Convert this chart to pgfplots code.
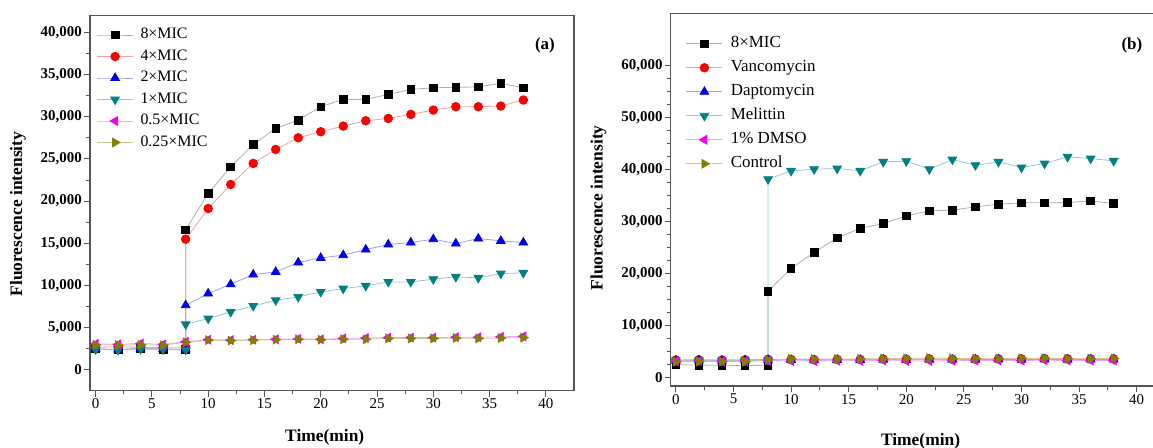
\documentclass[border=0pt]{standalone}
\usepackage{fontspec}
\setmainfont{Liberation Serif}
\usepackage{pgfplots}
\pgfplotsset{compat=1.18}

\definecolor{axgray}{RGB}{85,85,85}
\definecolor{mBlack}{RGB}{0,0,0}
\definecolor{lBlack}{RGB}{175,175,175}
\definecolor{mRed}{RGB}{250,0,0}
\definecolor{lRed}{RGB}{240,160,160}
\definecolor{mBlue}{RGB}{0,0,230}
\definecolor{lBlue}{RGB}{160,160,235}
\definecolor{mTeal}{RGB}{0,128,128}
\definecolor{lTeal}{RGB}{150,200,200}
\definecolor{mMag}{RGB}{240,0,240}
\definecolor{lMag}{RGB}{240,160,240}
\definecolor{mOlive}{RGB}{128,128,0}
\definecolor{lOlive}{RGB}{200,200,150}

\pgfplotsset{
  myaxis/.style={
    scale only axis, anchor=south west,
    xmin=-0.5, xmax=42.5,
    xtick={0,5,...,40}, minor x tick num=1,
    tick pos=left, tick align=outside,
    major tick length=6bp, minor tick length=3.5bp,
    axis line style={draw=axgray, line width=1.2bp},
    every tick/.style={draw=axgray, line width=1bp},
    scaled y ticks=false,
    /pgf/number format/assume math mode=true,
    /pgf/number format/fixed,
    /pgf/number format/precision=0,
    /pgf/number format/1000 sep={,},
    yticklabel style={font=\fontsize{15}{15}\selectfont\bfseries, inner sep=2bp},
    xticklabel style={font=\fontsize{15}{15}\selectfont, inner sep=2bp},
    label style={font=\fontsize{17.5}{17.5}\selectfont\bfseries},
    xlabel={Time(min)}, ylabel={Fluorescence intensity},
    legend cell align=left,
    legend image code/.code={
      \draw[mark repeat=2,mark phase=2,##1] plot coordinates {(0bp,0bp) (18bp,0bp) (36bp,0bp)};
    },
    every axis plot/.append style={line width=0.8bp},
  },
  sBlack/.style={color=lBlack, mark=square*, mark size=3.8bp, mark options={fill=mBlack, draw=mBlack}},
  sRed/.style={color=lRed, mark=*, mark size=4.3bp, mark options={fill=mRed, draw=mRed}},
  sBlue/.style={color=lBlue, mark=triangle*, mark size=5bp, mark options={fill=mBlue, draw=mBlue}},
  sTeal/.style={color=lTeal, mark=triangle*, mark size=5bp, mark options={fill=mTeal, draw=mTeal, rotate=180}},
  sMag/.style={color=lMag, mark=triangle*, mark size=5bp, mark options={fill=mMag, draw=mMag, rotate=90}},
  sOlive/.style={color=lOlive, mark=triangle*, mark size=5bp, mark options={fill=mOlive, draw=mOlive, rotate=-90}},
}

\begin{document}
\begin{tikzpicture}
% ---------------- panel (a)
\begin{axis}[myaxis,
  at={(90bp,57.3bp)}, width=484bp, height=375bp,
  ymin=-2500, ymax=42000,
  ytick={0,5000,...,40000}, minor y tick num=1,
  xlabel style={at={(axis description cs:0.485,-0.123)}, anchor=center},
  ylabel style={at={(axis description cs:-0.149,0.471)}, anchor=center, rotate=0},
  legend style={draw=none, fill=none, at={(axis description cs:0,1)}, anchor=north west,
    xshift=6.7bp, yshift=-12.3bp, inner sep=0pt, outer sep=0pt, row sep=7.5bp, column sep=7bp,
    nodes={inner sep=0pt, text height=11bp, text depth=3bp, font=\fontsize{16}{16}\selectfont}},
]
\addplot[sBlack] coordinates {(0,2450) (2,2350) (4,2500) (6,2400) (8,2400) (8,16600) (10,20900) (12,24070) (14,26720) (16,28620) (18,29610) (20,31200) (22,32070) (24,32070) (26,32660) (28,33250) (30,33450) (32,33490) (34,33570) (36,33970) (38,33450)};
\addlegendentry{8×MIC}
\addplot[sRed] coordinates {(0,2650) (2,2700) (4,2650) (6,2600) (8,2600) (8,15480) (10,19120) (12,21970) (14,24470) (16,26130) (18,27510) (20,28230) (22,28900) (24,29530) (26,29810) (28,30290) (30,30800) (32,31200) (34,31200) (36,31280) (38,31990)};
\addlegendentry{4×MIC}
\addplot[sBlue] coordinates {(0,2450) (2,2400) (4,2500) (6,2450) (8,2400) (8,7640) (10,9030) (12,10130) (14,11280) (16,11600) (18,12710) (20,13260) (22,13580) (24,14250) (26,14850) (28,15080) (30,15480) (32,14960) (34,15560) (36,15280) (38,15080)};
\addlegendentry{2×MIC}
\addplot[sTeal] coordinates {(0,2400) (2,2350) (4,2450) (6,2400) (8,2350) (8,5380) (10,6060) (12,6850) (14,7560) (16,8230) (18,8630) (20,9220) (22,9620) (24,9940) (26,10410) (28,10410) (30,10730) (32,11010) (34,10890) (36,11400) (38,11480)};
\addlegendentry{1×MIC}
\addplot[sMag] coordinates {(0,3050) (2,3000) (4,3100) (6,3000) (8,3300) (10,3550) (12,3500) (14,3550) (16,3600) (18,3650) (20,3600) (22,3700) (24,3750) (26,3800) (28,3800) (30,3800) (32,3850) (34,3850) (36,3900) (38,3950)};
\addlegendentry{0.5×MIC}
\addplot[sOlive] coordinates {(0,2950) (2,2900) (4,2950) (6,2900) (8,3250) (10,3500) (12,3450) (14,3500) (16,3550) (18,3600) (20,3550) (22,3600) (24,3600) (26,3700) (28,3700) (30,3700) (32,3750) (34,3700) (36,3750) (38,3800)};
\addlegendentry{0.25×MIC}
\node[font=\fontsize{17}{17}\selectfont\bfseries] at (rel axis cs:0.94,0.922) {(a)};
\end{axis}
% ---------------- panel (b)
\begin{axis}[myaxis,
  at={(670.7bp,62bp)}, width=494.8bp, height=372.7bp,
  xmin=-0.45,
  ymin=-1600, ymax=70000,
  ytick={0,10000,...,60000}, minor y tick num=3,
  xlabel style={at={(axis description cs:0.505,-0.148)}, anchor=center},
  ylabel style={at={(axis description cs:-0.146,0.478)}, anchor=center, rotate=0},
  legend style={draw=none, fill=none, at={(axis description cs:0,1)}, anchor=north west,
    xshift=15.3bp, yshift=-23.5bp, inner sep=0pt, outer sep=0pt, row sep=10bp, column sep=8bp,
    nodes={inner sep=0pt, text height=11bp, text depth=3bp, font=\fontsize{17}{17}\selectfont}},
]
\addplot[sBlack] coordinates {(0,2500) (2,2400) (4,2400) (6,2300) (8,2400) (8,16630) (10,20990) (12,24060) (14,26870) (16,28660) (18,29620) (20,31090) (22,32050) (24,32180) (26,32820) (28,33330) (30,33590) (32,33590) (34,33650) (36,33970) (38,33460)};
\addlegendentry{8×MIC}
\addplot[sRed] coordinates {(0,3400) (2,3450) (4,3400) (6,3450) (8,3500) (10,3500) (12,3450) (14,3500) (16,3500) (18,3550) (20,3550) (22,3600) (24,3550) (26,3550) (28,3600) (30,3600) (32,3650) (34,3600) (36,3600) (38,3600)};
\addlegendentry{Vancomycin}
\addplot[sBlue] coordinates {(0,3250) (2,3300) (4,3250) (6,3300) (8,3350) (10,3400) (12,3350) (14,3400) (16,3400) (18,3450) (20,3400) (22,3450) (24,3450) (26,3450) (28,3500) (30,3450) (32,3500) (34,3450) (36,3500) (38,3500)};
\addlegendentry{Daptomycin}
\addplot[sTeal] coordinates {(0,3300) (2,3300) (4,3250) (6,3300) (8,3350) (8,38130) (10,39730) (12,40050) (14,40180) (16,39730) (18,41460) (20,41590) (22,40050) (24,41900) (26,40820) (28,41460) (30,40370) (32,41140) (34,42420) (36,42100) (38,41650)};
\addlegendentry{Melittin}
\addplot[sMag] coordinates {(0,3150) (2,3200) (4,3150) (6,3200) (8,3250) (10,3200) (12,3200) (14,3250) (16,3250) (18,3300) (20,3200) (22,3200) (24,3250) (26,3300) (28,3300) (30,3300) (32,3350) (34,3300) (36,3300) (38,3300)};
\addlegendentry{1\% DMSO}
\addplot[sOlive] coordinates {(0,3050) (2,3100) (4,3100) (6,3100) (8,3400) (10,3600) (12,3550) (14,3600) (16,3600) (18,3650) (20,3700) (22,3750) (24,3700) (26,3650) (28,3650) (30,3750) (32,3750) (34,3650) (36,3650) (38,3700)};
\addlegendentry{Control}
\node[font=\fontsize{17}{17}\selectfont\bfseries] at (rel axis cs:0.932,0.915) {(b)};
\end{axis}
\pgfresetboundingbox
\useasboundingbox (0bp,0bp) rectangle (1153bp,448bp);
\end{tikzpicture}
\end{document}
